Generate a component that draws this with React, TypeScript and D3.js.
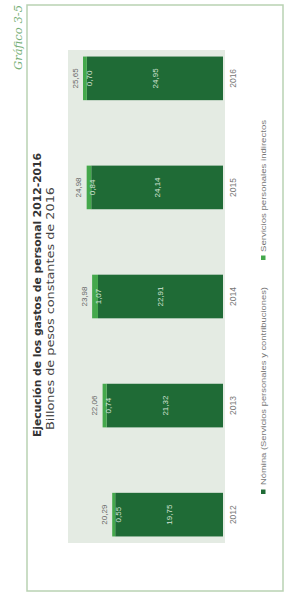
import React from 'react';
import * as d3 from 'd3';

const years = ['2012', '2013', '2014', '2015', '2016'];
const nomina = [19.75, 21.32, 22.91, 24.14, 24.95];
const indirectos = [0.55, 0.74, 1.07, 0.84, 0.70];
const totales = [20.29, 22.06, 23.98, 24.98, 25.65];
const seriesNames = ['Nómina (Servicios personales y contribuciones)', 'Servicios personales indirectos'];
const titleText = 'Ejecución de los gastos de personal 2012-2016';
const subtitleText = 'Billones de pesos constantes de 2016';
const graficoText = 'Gráfico 3-5';

const W = 285;
const H = 594;
const DARK = '#1f6b36';
const LIGHT = '#44a84c';
const fmt = (v: number) => v.toFixed(2).replace('.', ',');

export default function App() {
  // Unrotated chart coordinates: u along original horizontal, v along original vertical
  const x = d3.scaleBand<string>().domain(years).range([51, 544]).paddingInner(0.6).paddingOuter(0.06);
  const y = d3.scaleLinear().domain([0, 28.4]).range([223, 68]);
  const bw = x.bandwidth();
  const font = '"DejaVu Sans", Verdana, sans-serif';
  const font2 = '"Liberation Sans", Arial, sans-serif';

  return (
    <svg width={W} height={H} style={{ position: 'absolute', left: 0, top: 0, background: '#fff' }}>
      <rect x={0} y={0} width={W} height={H} fill="#fff" />
      <g transform={`translate(0,${H}) rotate(-90)`}>
        {/* frame */}
        <rect x={3} y={27} width={586} height={256} fill="#fff" stroke="#b9d2b3" strokeWidth={1.5} />
        {/* Gráfico label */}
        <text x={524} y={18} dy="0.35em" textLength={65} lengthAdjust="spacingAndGlyphs"
          fontFamily='"DejaVu Serif", "Liberation Serif", serif' fontStyle="italic" fontSize={11} fill="#78b078">
          {graficoText}
        </text>
        {/* title */}
        <text x={157} y={37} dy="0.35em" textLength={284} lengthAdjust="spacingAndGlyphs"
          fontFamily={font} fontWeight="bold" fontSize={10} fill="#333">
          {titleText}
        </text>
        <text x={164} y={50} dy="0.35em" textLength={243} lengthAdjust="spacingAndGlyphs"
          fontFamily={font} fontSize={11} fill="#444">
          {subtitleText}
        </text>
        {/* plot background */}
        <rect x={51} y={68} width={493} height={157} fill="#e4ebe3" />
        {years.map((yr, i) => {
          const u = x(yr)!;
          const top1 = y(nomina[i]);
          const top2 = y(nomina[i] + indirectos[i]);
          const cx = u + bw / 2;
          return (
            <g key={yr}>
              <rect x={u} y={top1} width={bw} height={y(0) - top1} fill={DARK} />
              <rect x={u} y={top2} width={bw} height={top1 - top2} fill={LIGHT} />
              <text x={cx} y={(y(0) + top1) / 2} dy="0.35em" textAnchor="middle" fontFamily={font2} fontSize={8} fill="#d5e3d5">
                {fmt(nomina[i])}
              </text>
              <text x={cx} y={top2 + 6} dy="0.35em" textAnchor="middle" fontFamily={font2} fontSize={8} fill="#d5e3d5">
                {fmt(indirectos[i])}
              </text>
              <text x={cx} y={y(totales[i]) - 8} dy="0.35em" textAnchor="middle" fontFamily={font2} fontSize={8} fill="#666">
                {fmt(totales[i])}
              </text>
              <text x={cx} y={233} dy="0.35em" textAnchor="middle" fontFamily={font2} fontSize={8.5} fill="#777">
                {yr}
              </text>
            </g>
          );
        })}
        {/* legend */}
        <rect x={100} y={261} width={4.5} height={4.5} fill={DARK} />
        <text x={109} y={263.5} dy="0.35em" textLength={198} lengthAdjust="spacingAndGlyphs" fontFamily={font2} fontSize={7.5} fill="#777">
          {seriesNames[0]}
        </text>
        <rect x={334} y={261} width={4.5} height={4.5} fill={LIGHT} />
        <text x={342} y={263.5} dy="0.35em" textLength={132} lengthAdjust="spacingAndGlyphs" fontFamily={font2} fontSize={7.5} fill="#777">
          {seriesNames[1]}
        </text>
      </g>
    </svg>
  );
}
